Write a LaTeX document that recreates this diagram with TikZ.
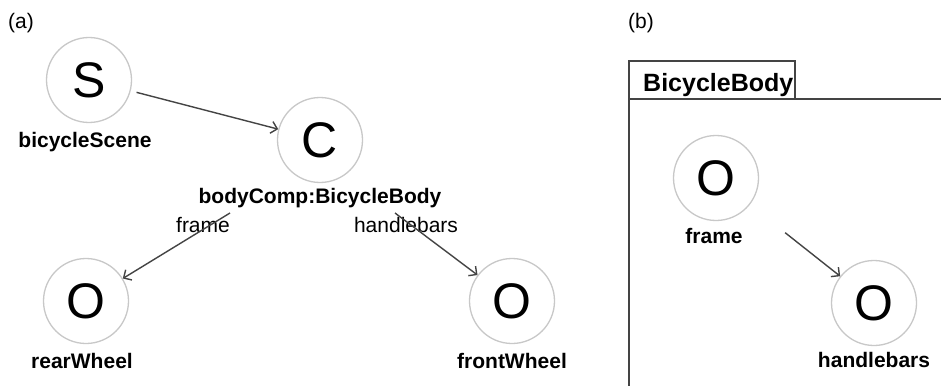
\documentclass[tikz,border=0pt]{standalone}
\usepackage{fontspec}
\setmainfont{Liberation Sans}
\usetikzlibrary{arrows.meta}
\definecolor{ringgray}{HTML}{C8C8C8}
\definecolor{linegray}{HTML}{444444}
\tikzset{
 obj/.style={circle, draw=ringgray, line width=1.3pt, minimum size=85pt, inner sep=0pt, font=\fontsize{50}{50}\selectfont, text depth=0pt},
 lbl/.style={font=\fontsize{21}{24}\selectfont\bfseries, anchor=base, inner sep=0pt},
 elbl/.style={font=\fontsize{21}{24}\selectfont, anchor=base, inner sep=0pt},
 conn/.style={draw=linegray, line width=1.4pt, -{Straight Barb[length=6pt,width=12pt]}},
 frameline/.style={draw=linegray, line width=2pt},
}
\begin{document}
\begin{tikzpicture}[x=1pt,y=-1pt]
\useasboundingbox[fill=white] (0,0) rectangle (941,385);
% panel (a)
\node[elbl, anchor=base west] (pa) at (8,29) {(a)};
\node[obj] (sc) at (89,80) {S};
\node[lbl] (scl) at (85,147) {bicycleScene};
\node[obj] (bc) at (320,140) {C};
\node[lbl] (bcl) at (320,203) {bodyComp:BicycleBody};
\node[obj] (rw) at (86,301) {O};
\node[lbl] (rwl) at (82,368) {rearWheel};
\node[obj] (fw) at (512,301) {O};
\node[lbl] (fwl) at (512,368) {frontWheel};
\node[elbl] (el1) at (203,232) {frame};
\node[elbl] (el2) at (406,232) {handlebars};
\coordinate (fs) at (230,213);
\coordinate (hs) at (395,213);
\draw[conn, shorten <=6pt] (sc) -- (bc);
\draw[conn] (fs) -- (rw);
\draw[conn] (hs) -- (fw);
% panel (b)
\node[elbl, anchor=base west] (pb) at (628,29) {(b)};
\draw[frameline] (629,386) -- (629,61) -- (795,61) -- (795,99) -- (629,99);
\draw[draw=linegray, line width=1.5pt] (795,99) -- (942,99);
\node[font=\fontsize{25}{28}\selectfont\bfseries, anchor=base west, inner sep=0pt] (tab) at (643,92) {BicycleBody};
\node[obj] (fo) at (716,178) {O};
\node[lbl] (fol) at (714,243) {frame};
\node[obj] (hb) at (874,303) {O};
\node[lbl] (hbl) at (874,367) {handlebars};
\draw[conn, shorten <=45pt] (fo) -- (hb);
\end{tikzpicture}
\end{document}
